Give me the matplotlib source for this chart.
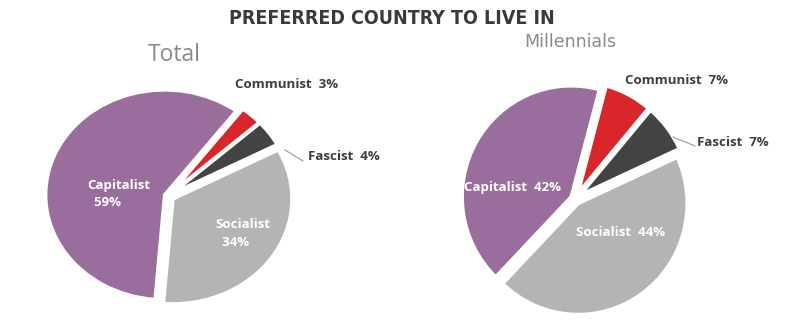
import matplotlib
matplotlib.use("Agg")
import matplotlib.pyplot as plt

# slice order goes clockwise from the top-right
categories = ["Communist", "Fascist", "Socialist", "Capitalist"]
total_values = [3, 4, 34, 59]
millennial_values = [7, 7, 44, 42]
colors = ["#d8262b", "#434343", "#b4b4b4", "#9a6e9c"]

plt.rcParams["font.family"] = ["Open Sans", "DejaVu Sans"]

W, H = 800, 320
fig = plt.figure(figsize=(8, 3.2), dpi=100)
fig.patch.set_facecolor("white")


def pie_axes(cx, cy, rx, ry, lim=1.4):
    # axes placed so the unit pie sits at pixel centre (cx, cy) with radii rx, ry
    ax = fig.add_axes([(cx - lim * rx) / W, (H - cy - lim * ry) / H,
                       2 * lim * rx / W, 2 * lim * ry / H])
    return ax


def fix_axes(ax, lim=1.4):
    # pie() forces equal aspect and its own limits, undo that
    ax.set_aspect("auto")
    ax.set_xlim(-lim, lim)
    ax.set_ylim(-lim, lim)
    ax.axis("off")


def to_data(px, py, cx, cy, rx, ry):
    return (px - cx) / rx, (cy - py) / ry


wedge_style = dict(edgecolor="white", linewidth=2.5)
dark = "#3d3d3d"
lab = dict(fontsize=9.5, fontweight="bold", va="center")

# ---- Total
cx, cy, rx, ry = 168, 196, 119, 105
ax1 = pie_axes(cx, cy, rx, ry)
ax1.pie(total_values, colors=colors, startangle=53, counterclock=False,
        explode=[0.04, 0.04, 0.05, 0.03], wedgeprops=wedge_style)
fix_axes(ax1)
ax1.text(*to_data(87, 194, cx, cy, rx, ry), f"Capitalist\n  {total_values[3]}%",
         color="white", ha="left", linespacing=1.5, **lab)
ax1.text(*to_data(215, 234, cx, cy, rx, ry), f"Socialist\n  {total_values[2]}%",
         color="white", ha="left", linespacing=1.5, **lab)
ax1.text(*to_data(235, 85, cx, cy, rx, ry), f"Communist  {total_values[0]}%",
         color=dark, ha="left", **lab)
ax1.text(*to_data(308, 157, cx, cy, rx, ry), f"Fascist  {total_values[1]}%",
         color=dark, ha="left", **lab)
p0 = to_data(285, 150, cx, cy, rx, ry)
p1 = to_data(303, 161, cx, cy, rx, ry)
ax1.plot([p0[0], p1[0]], [p0[1], p1[1]], color="#999999", lw=0.8)

# ---- Millennials
cx, cy, rx, ry = 575, 199, 109, 111
ax2 = pie_axes(cx, cy, rx, ry)
ax2.pie(millennial_values, colors=colors, startangle=75, counterclock=False,
        explode=[0.06, 0.06, 0.05, 0.04], wedgeprops=wedge_style)
fix_axes(ax2)
ax2.text(*to_data(513, 187, cx, cy, rx, ry), f"Capitalist  {millennial_values[3]}%",
         color="white", ha="center", **lab)
ax2.text(*to_data(621, 233, cx, cy, rx, ry), f"Socialist  {millennial_values[2]}%",
         color="white", ha="center", **lab)
ax2.text(*to_data(625, 80, cx, cy, rx, ry), f"Communist  {millennial_values[0]}%",
         color=dark, ha="left", **lab)
ax2.text(*to_data(697, 143, cx, cy, rx, ry), f"Fascist  {millennial_values[1]}%",
         color=dark, ha="left", **lab)
p0 = to_data(673, 137, cx, cy, rx, ry)
p1 = to_data(695, 146, cx, cy, rx, ry)
ax2.plot([p0[0], p1[0]], [p0[1], p1[1]], color="#999999", lw=0.8)

# titles
fig.text(392 / W, 1 - 18 / H, "PREFERRED COUNTRY TO LIVE IN",
         family="DejaVu Sans", fontstretch="condensed", fontweight="bold",
         fontsize=14, color="#3a3a3a", ha="center", va="center")
fig.text(174 / W, 1 - 55 / H, "Total", fontsize=16.5, color="#8a8a8a",
         ha="center", va="center")
fig.text(570 / W, 1 - 42 / H, "Millennials", family="DejaVu Sans",
         fontsize=12.5, color="#8a8a8a", ha="center", va="center")

fig.savefig("out.png", dpi=100, facecolor="white")
